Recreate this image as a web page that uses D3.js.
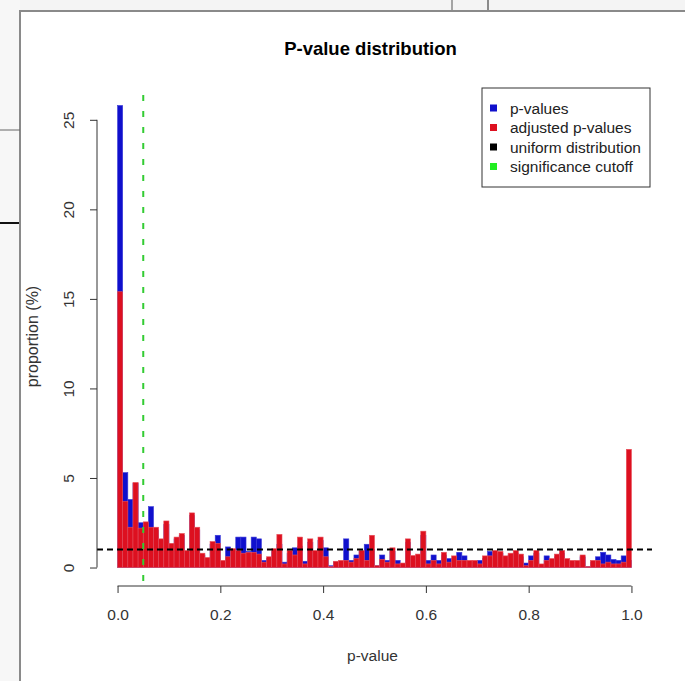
<!DOCTYPE html>
<html>
<head>
<meta charset="utf-8">
<script src="https://cdn.jsdelivr.net/npm/d3@7/dist/d3.min.js"></script>
<style>
  html, body { margin: 0; padding: 0; background: #fff; }
  svg { display: block; font-family: "Liberation Sans", Arial, Helvetica, sans-serif; }
</style>
</head>
<body>
<svg id="chart" width="685" height="681"></svg>
<script>
// ====================================
// Données
// ====================================
const binWidth = 0.01;
const binStarts = d3.range(100).map(i => i * binWidth);

// proportion (%) des p-values brutes, une valeur par classe de 0.01
const pValues = [
  25.8, 5.3, 3.8, 4.7, 2.5, 2.5, 3.4, 2.1, 1.5, 2.4,
  1.3, 1.6, 1.8, 0.9, 2.9, 2.1, 0.7, 0.5, 1.3, 1.8,
  0.3, 1.15, 1.0, 1.7, 1.7, 0.9, 1.7, 1.6, 0.4, 0.5,
  0.9, 1.3, 0.3, 0.8, 1.1, 1.2, 0.35, 1.4, 0.8, 1.5,
  1.1, 0.1, 0.3, 0.3, 1.6, 0.4, 0.7, 0.9, 1.3, 1.0,
  0.1, 0.7, 0.4, 0.9, 0.4, 0.2, 1.4, 0.6, 0.6, 1.8,
  0.4, 0.7, 0.4, 0.7, 0.5, 0.5, 0.85, 0.65, 0.3, 0.3,
  0.4, 0.5, 0.9, 0.8, 0.8, 0.5, 0.7, 0.8, 0.6, 0.25,
  0.65, 0.8, 0.1, 0.65, 0.4, 0.6, 0.8, 0.4, 0.3, 0.3,
  0.6, 0.05, 0.3, 0.6, 0.85, 0.7, 0.45, 0.4, 0.65, 0.4
];

// proportion (%) des p-values ajustées
const adjustedPValues = [
  15.4, 3.7, 2.25, 4.75, 2.2, 2.55, 2.25, 2.25, 1.6, 2.6,
  1.35, 1.7, 1.9, 0.95, 3.05, 2.25, 0.8, 0.56, 1.45, 1.35,
  0.4, 0.6, 1.05, 0.95, 0.8, 0.85, 0.85, 0.75, 0.3, 0.6,
  1.05, 1.85, 0.2, 0.95, 0.7, 1.7, 0.2, 1.6, 0.95, 1.7,
  0.6, 0.05, 0.35, 0.4, 0.4, 0.3, 0.5, 0.95, 0.4, 1.8,
  0.1, 0.45, 0.3, 1.1, 0.2, 0.25, 1.6, 0.67, 0.75, 2.03,
  0.2, 0.4, 0.2, 0.85, 0.3, 0.65, 0.4, 0.4, 0.4, 0.4,
  0.2, 0.65, 0.65, 0.95, 0.9, 0.65, 0.8, 0.95, 0.75, 0.1,
  0.4, 0.95, 0.2, 0.4, 0.5, 0.75, 0.95, 0.5, 0.4, 0.4,
  0.7, 0.05, 0.4, 0.4, 0.2, 0.3, 0.2, 0.2, 0.3, 6.6
];

const uniformLevel = 1;       // distribution uniforme : 1 % par classe
const significanceCutoff = 0.05;

const xTicks = [0, 0.2, 0.4, 0.6, 0.8, 1.0];
const yTicks = [0, 5, 10, 15, 20, 25];

const legendLabels = ["p-values", "adjusted p-values", "uniform distribution", "significance cutoff"];
const legendColors = ["#1010cc", "#dd1020", "#000000", "#22ee22"];

// ====================================
// Mise en page
// ====================================
const svg = d3.select("#chart");
const plot = { left: 97, right: 652, top: 87, bottom: 586 };
const labelSize = "15.5px";

const yMax = d3.max(pValues);
const x = d3.scaleLinear()
    .domain([-0.04, 1.04])
    .range([plot.left, plot.right]);
const y = d3.scaleLinear()
    .domain([-yMax * 0.04, yMax * 1.04])
    .range([plot.bottom, plot.top]);

// cadre de la fenêtre (capture d'écran)
const frame = svg.append("g").attr("class", "frame");
frame.append("rect").attr("x", 0).attr("y", 0).attr("width", 685).attr("height", 10).attr("fill", "#f4f4f4");
frame.append("rect").attr("x", 0).attr("y", 0).attr("width", 20).attr("height", 681).attr("fill", "#f7f7f7");
frame.append("line").attr("x1", 20).attr("x2", 685).attr("y1", 11).attr("y2", 11)
    .attr("stroke", "#8a8a8a").attr("stroke-width", 2);
frame.append("line").attr("x1", 20).attr("x2", 20).attr("y1", 10).attr("y2", 681)
    .attr("stroke", "#8a8a8a").attr("stroke-width", 2);
frame.append("line").attr("x1", 452).attr("x2", 452).attr("y1", 0).attr("y2", 10)
    .attr("stroke", "#555").attr("stroke-width", 1);
frame.append("line").attr("x1", 488).attr("x2", 488).attr("y1", 0).attr("y2", 10)
    .attr("stroke", "#222").attr("stroke-width", 1);
frame.append("line").attr("x1", 0).attr("x2", 20).attr("y1", 130).attr("y2", 130)
    .attr("stroke", "#666").attr("stroke-width", 1);
frame.append("line").attr("x1", 0).attr("x2", 19).attr("y1", 223).attr("y2", 223)
    .attr("stroke", "#111").attr("stroke-width", 2);

// ====================================
// Histogrammes
// ====================================
function drawBars(values, color, stroke, cls) {
    svg.append("g").attr("class", cls)
        .selectAll("rect")
        .data(values)
        .join("rect")
        .attr("x", (d, i) => x(binStarts[i]))
        .attr("width", x(binWidth) - x(0))
        .attr("y", d => y(d))
        .attr("height", d => y(0) - y(d))
        .attr("fill", color)
        .attr("stroke", stroke)
        .attr("stroke-width", 0.6);
}

drawBars(pValues, legendColors[0], "#3a3ad8", "bars-raw");
drawBars(adjustedPValues, legendColors[1], "#e8505a", "bars-adjusted");

// ligne uniforme
svg.append("line")
    .attr("x1", plot.left).attr("x2", plot.right)
    .attr("y1", y(uniformLevel)).attr("y2", y(uniformLevel))
    .attr("stroke", "#000").attr("stroke-width", 2)
    .attr("stroke-dasharray", "6,4");

// seuil de significativité
svg.append("line")
    .attr("x1", x(significanceCutoff)).attr("x2", x(significanceCutoff))
    .attr("y1", plot.top + 8).attr("y2", plot.bottom)
    .attr("stroke", "#33cc33").attr("stroke-width", 2)
    .attr("stroke-dasharray", "6,10");

// ====================================
// Axes
// ====================================
const xAxis = svg.append("g")
    .attr("transform", `translate(0,${plot.bottom})`)
    .call(d3.axisBottom(x).tickValues(xTicks).tickSize(7).tickSizeOuter(0)
        .tickFormat(d3.format(".1f")));
xAxis.select(".domain").attr("d", `M${x(0)},0H${x(1)}`);
xAxis.selectAll("text").attr("y", 34).attr("dy", null)
    .style("font-size", labelSize).style("fill", "#333");

const yAxis = svg.append("g")
    .attr("transform", `translate(${plot.left},0)`)
    .call(d3.axisLeft(y).tickValues(yTicks).tickSize(7).tickSizeOuter(0));
yAxis.select(".domain").attr("d", `M0,${y(0)}V${y(25)}`);
yAxis.selectAll("text")
    .attr("x", 0).attr("y", -23.5).attr("dy", null)
    .attr("text-anchor", "middle")
    .attr("transform", "rotate(-90)")
    .style("font-size", labelSize).style("fill", "#333");

svg.selectAll(".domain, .tick line").attr("stroke", "#333");

// titres
svg.append("text")
    .attr("x", (plot.left + plot.right) / 2 - 4)
    .attr("y", 54.5)
    .attr("text-anchor", "middle")
    .style("font-size", "18.5px").style("font-weight", "bold")
    .text("P-value distribution");

svg.append("text")
    .attr("x", (plot.left + plot.right) / 2 - 2)
    .attr("y", 661)
    .attr("text-anchor", "middle")
    .style("font-size", labelSize).style("fill", "#333")
    .text("p-value");

svg.append("text")
    .attr("transform", `translate(38,${(plot.top + plot.bottom) / 2}) rotate(-90)`)
    .attr("text-anchor", "middle")
    .style("font-size", "16px").style("fill", "#333")
    .text("proportion (%)");

// ====================================
// Légende
// ====================================
const legend = svg.append("g").attr("transform", "translate(482,88)");
legend.append("rect")
    .attr("width", 168).attr("height", 99)
    .attr("fill", "#fff").attr("stroke", "#333").attr("stroke-width", 1);
legendLabels.forEach((label, i) => {
    const row = legend.append("g").attr("transform", `translate(0,${20 + i * 19.5})`);
    row.append("rect")
        .attr("x", 8).attr("y", -3.5).attr("width", 7).attr("height", 7)
        .attr("fill", legendColors[i]);
    row.append("text")
        .attr("x", 28).attr("y", 5.5)
        .style("font-size", labelSize).style("fill", "#222")
        .text(label);
});
</script>
</body>
</html>
